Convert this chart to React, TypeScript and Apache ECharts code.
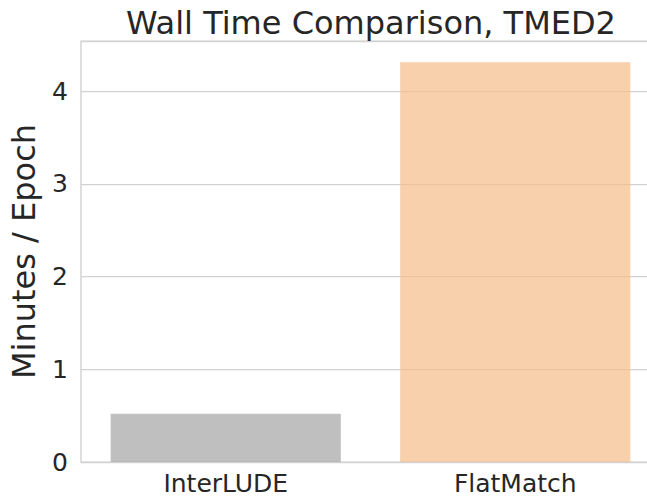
import React, { useEffect, useRef } from "react";
import * as echarts from "echarts";

const categories = ["InterLUDE", "FlatMatch"];
const values = [0.52, 4.31];
const barColors = ["rgba(164,164,164,0.7)", "rgba(245,188,136,0.7)"];
const yTicks = [0, 1, 2, 3, 4];
const yMax = 4.54;
const titleText = "Wall Time Comparison, TMED2";
const yLabel = "Minutes / Epoch";

const FONT = "DejaVu Sans";
const TEXT = "#262626";

export default function App() {
  const ref = useRef<HTMLDivElement>(null);
  useEffect(() => {
    if (!ref.current) return;
    const chart = echarts.init(ref.current, null, { renderer: "svg" });
    chart.setOption({
      animation: false,
      backgroundColor: "#ffffff",
      title: {
        text: titleText,
        left: 121,
        top: 2,
        textStyle: { fontFamily: FONT, fontSize: 32, fontWeight: "normal", color: TEXT },
      },
      grid: {
        left: 77,
        right: 40,
        top: 41,
        bottom: 37,
        show: true,
        borderColor: "#cccccc",
        borderWidth: 1.25,
        containLabel: false,
      },
      xAxis: {
        type: "category",
        data: categories,
        axisLine: { show: false },
        axisTick: { show: false },
        axisLabel: { fontFamily: FONT, fontSize: 25, color: TEXT, margin: 9 },
        splitLine: { show: false },
      },
      yAxis: {
        type: "value",
        min: 0,
        max: yMax,
        interval: 1,
        name: yLabel,
        nameLocation: "middle",
        nameGap: 41,
        nameTextStyle: { fontFamily: FONT, fontSize: 32, color: TEXT },
        axisLine: { show: false },
        axisTick: { show: false },
        axisLabel: {
          fontFamily: FONT,
          fontSize: 25,
          color: TEXT,
          margin: 13,
          formatter: (v: number) => (yTicks.includes(v) ? String(v) : ""),
        },
        splitLine: { show: true, lineStyle: { color: "#d2d2d2", width: 1.25 } },
      },
      series: [
        {
          type: "bar",
          barWidth: "79.5%",
          data: values.map((v, i) => ({ value: v, itemStyle: { color: barColors[i] } })),
        },
      ],
    });
    return () => chart.dispose();
  }, []);
  return (
    <div style={{ width: 647, height: 499, position: "absolute", left: 0, top: 0, overflow: "hidden" }}>
      <div ref={ref} style={{ width: 700, height: 499, position: "absolute", left: 0, top: 0 }} />
    </div>
  );
}
